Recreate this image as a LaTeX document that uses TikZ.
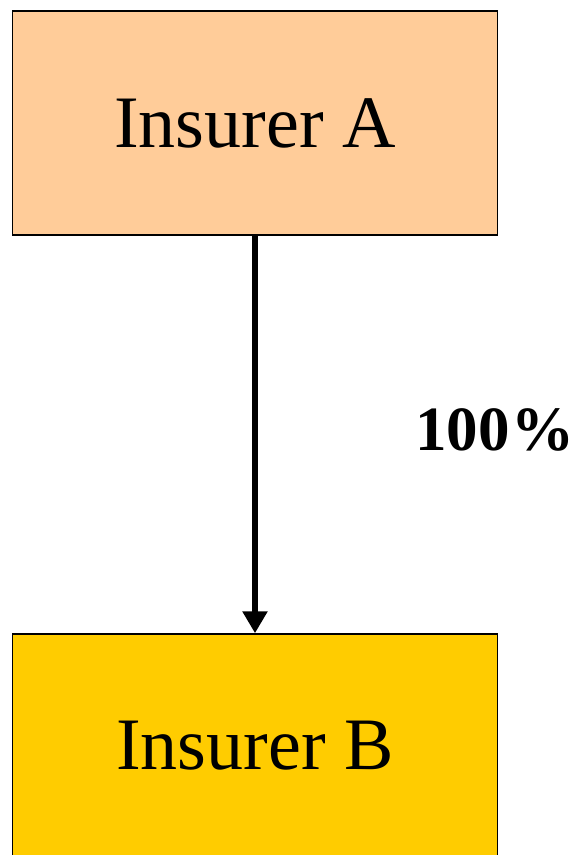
\documentclass[tikz,border=0pt]{standalone}
\usepackage{fontspec}
\setmainfont{Liberation Serif}
\usetikzlibrary{arrows.meta}

\definecolor{insA}{HTML}{FFCC99}
\definecolor{insB}{HTML}{FFCC00}

\begin{document}
\begin{tikzpicture}[x=1pt,y=1pt]
            \tikzstyle{every node}+=[inner sep=0pt]
            \tikzstyle{insurer}=[draw=black, line width=1.5pt, minimum width=485pt, minimum height=224pt, font=\fontsize{74}{80}\selectfont]
            \useasboundingbox (0,0) rectangle (575,-855);
            \begin{scope}
            \clip (0,0) rectangle (575,-855);
            \node [insurer, fill=insA] (insA) at (255,-123) {Insurer A};
            \node [insurer, fill=insB] (insB) at (255,-746) {Insurer B};
            \end{scope}
            \draw [black, line width=6pt, -{Triangle[width=24pt,length=22pt]}] (insA.south) -- (insB.north);
            \node [font=\fontsize{63}{70}\selectfont\bfseries] (share) at (495,-430) {100\kern2pt\%};
        \end{tikzpicture}
\end{document}
